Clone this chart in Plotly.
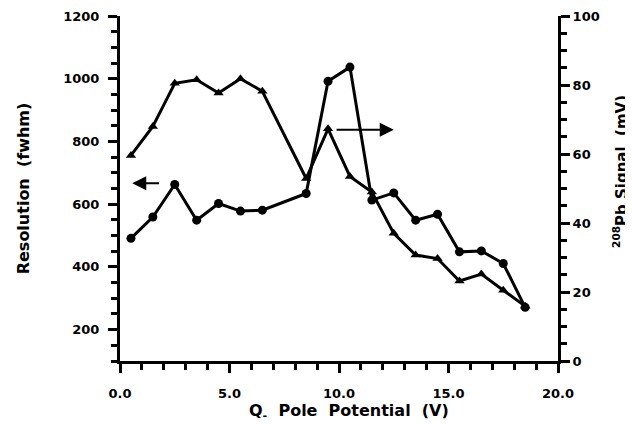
import plotly.graph_objects as go

# Data
potential = [0.5, 1.5, 2.5, 3.5, 4.5, 5.5, 6.5, 8.5, 9.5, 10.5, 11.5, 12.5, 13.5, 14.5, 15.5, 16.5, 17.5, 18.5]
resolution = [491, 559, 663, 549, 602, 578, 581, 634, 992, 1037, 613, 636, 549, 568, 448, 451, 411, 271]
signal = [59.6, 68, 80.5, 81.5, 77.7, 81.8, 78.2, 52.9, 67.3, 53.5, 49, 37, 30.7, 29.7, 23.2, 25.2, 20.5, 15.9]

x_ticks = [0, 5, 10, 15, 20]
x_tick_labels = ["0.0", "5.0", "10.0", "15.0", "20.0"]

x_title = "Q<sub>-</sub>  Pole  Potential  (V)"
y_title = "Resolution  (fwhm)"
y2_title = "<sup>208</sup>Pb Signal  (mV)"

FONT = "DejaVu Sans, sans-serif"

fig = go.Figure()
fig.add_trace(go.Scatter(
    x=potential, y=resolution, mode="lines+markers", name="Resolution",
    line=dict(color="black", width=3),
    marker=dict(symbol="circle", size=9, color="black"),
    yaxis="y", cliponaxis=False,
))
fig.add_trace(go.Scatter(
    x=potential, y=signal, mode="lines+markers", name="Signal",
    line=dict(color="black", width=3),
    marker=dict(symbol="triangle-up", size=9, color="black"),
    yaxis="y2", cliponaxis=False,
))

tickfont = dict(family=FONT, size=13, color="black", weight="bold")
titlefont = dict(family=FONT, size=16, color="black", weight="bold")

common = dict(
    ticks="outside", ticklen=9, tickwidth=3, tickcolor="black",
    showline=True, linewidth=3, linecolor="black", showgrid=False, zeroline=False,
    tickfont=tickfont, automargin=False,
)

# the page body adds an 8px offset, so the figure is sized/margined to compensate
fig.update_layout(
    width=625, height=416,
    margin=dict(l=111.5, r=75, t=7.5, b=63),
    paper_bgcolor="white", plot_bgcolor="white",
    showlegend=False,
    font=dict(family=FONT, color="black"),
    xaxis=dict(
        range=[0, 20], tickmode="array", tickvals=x_ticks, ticktext=x_tick_labels,
        minor=dict(dtick=1, ticklen=6, tickwidth=3, tickcolor="black", ticks="outside"),
        ticklabelstandoff=9,
        **common,
    ),
    yaxis=dict(
        range=[100, 1200], dtick=200, tick0=0,
        minor=dict(dtick=50, ticklen=6, tickwidth=3, tickcolor="black", ticks="outside"),
        ticklabelstandoff=6,
        title=dict(text=y_title, font=titlefont, standoff=30),
        **common,
    ),
    yaxis2=dict(
        range=[0, 100], dtick=20, tick0=0, overlaying="y", side="right",
        minor=dict(dtick=5, ticklen=6, tickwidth=3, tickcolor="black", ticks="outside"),
        ticklabelstandoff=0,
        **common,
    ),
    annotations=[
        dict(x=0.56, y=667, ax=1.85, ay=667, xref="x", yref="y", axref="x", ayref="y",
             showarrow=True, arrowhead=2, arrowsize=1.4, arrowwidth=2, arrowcolor="black", text=""),
        dict(x=12.5, y=67, ax=9.82, ay=67, xref="x", yref="y2", axref="x", ayref="y2",
             showarrow=True, arrowhead=2, arrowsize=1.4, arrowwidth=2, arrowcolor="black", text=""),
        dict(text=x_title, x=0.523, y=-0.1476, xref="paper", yref="paper",
             xanchor="center", yanchor="middle", showarrow=False, font=titlefont),
        dict(text=y2_title, x=1.143, y=0.55, xref="paper", yref="paper", textangle=-90,
             xanchor="center", yanchor="middle", showarrow=False,
             font=dict(family=FONT, size=15, color="black", weight="bold")),
    ],
)

fig.write_html("out.html")
